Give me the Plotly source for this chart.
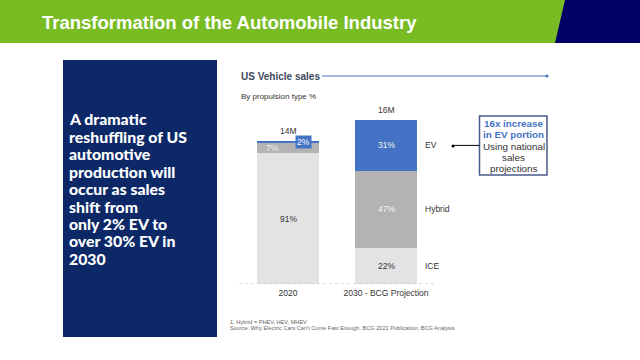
import plotly.graph_objects as go

# ---- data ----
categories = ["2020", "2030 - BCG Projection"]
totals_m = [14, 16]                 # total sales, millions
total_labels = ["14M", "16M"]
ice_share = [91, 22]                # %
hybrid_share = [7, 47]
ev_share = [2, 31]
segment_names = ["ICE", "Hybrid", "EV"]

W, H = 640, 360
def px(x): return x / W
def py(y): return 1 - y / H

ice_v = [t * s / 100 for t, s in zip(totals_m, ice_share)]
hyb_v = [t * s / 100 for t, s in zip(totals_m, hybrid_share)]
ev_v = [t * s / 100 for t, s in zip(totals_m, ev_share)]
idx = list(range(len(categories)))

C_EV = "#4472C4"
C_HYB = "#B3B3B3"
C_ICE = "#E3E3E3"
TXT = "#333333"
FONT = "Liberation Sans, Arial, sans-serif"

fig = go.Figure()
fig.add_trace(go.Bar(x=idx, y=ice_v, name="ICE", marker=dict(color=C_ICE, line=dict(width=0))))
fig.add_trace(go.Bar(x=idx, y=hyb_v, name="Hybrid", marker=dict(color=C_HYB, line=dict(width=0))))
fig.add_trace(go.Bar(x=idx, y=ev_v, name="EV", marker=dict(color=C_EV, line=dict(width=0))))

shapes = []
ann = []

# header band
shapes.append(dict(type="rect", xref="paper", yref="paper", x0=0, x1=1, y0=py(43), y1=1,
                   fillcolor="#78BB22", line=dict(width=0), layer="below"))
shapes.append(dict(type="path", xref="paper", yref="paper",
                   path=f"M {px(565)} {py(0)} L {px(640)} {py(0)} L {px(640)} {py(43)} L {px(555)} {py(43)} Z",
                   fillcolor="#000066", line=dict(width=0), layer="below"))
ann.append(dict(xref="paper", yref="paper", x=px(40), y=py(22), xanchor="left", yanchor="middle",
                text="<b>Transformation of the Automobile Industry</b>", showarrow=False,
                font=dict(family=FONT, size=18.5, color="white")))

# left panel
shapes.append(dict(type="rect", xref="paper", yref="paper", x0=px(63), x1=px(217), y0=py(337), y1=py(60),
                   fillcolor="#0C2867", line=dict(width=0), layer="below"))
left_lines = ["A dramatic", "reshuffling of US", "automotive", "production will",
              "occur as sales", "shift from", "only 2% EV to", "over 30% EV in", "2030"]
for i, line in enumerate(left_lines):
    ann.append(dict(xref="paper", yref="paper", x=px(66.5), y=py(119 + 17.4 * i), xanchor="left",
                    yanchor="middle", text=line, showarrow=False,
                    font=dict(family="Lato, sans-serif", size=15.8, color="white", weight=900)))

# chart title + line
ann.append(dict(xref="paper", yref="paper", x=px(239), y=py(76), xanchor="left", yanchor="middle",
                text="<b>US Vehicle sales</b>", showarrow=False,
                font=dict(family=FONT, size=10, color="#3C4A5C")))
shapes.append(dict(type="line", xref="paper", yref="paper", x0=px(322), x1=px(547), y0=py(76), y1=py(76),
                   line=dict(color=C_EV, width=1)))
shapes.append(dict(type="circle", xref="paper", yref="paper", x0=px(545.5), x1=px(548.5), y0=py(77.5), y1=py(74.5),
                   fillcolor=C_EV, line=dict(width=0)))
ann.append(dict(xref="paper", yref="paper", x=px(239), y=py(97), xanchor="left", yanchor="middle",
                text="By propulsion type %", showarrow=False,
                font=dict(family=FONT, size=8, color=TXT)))

# baseline
shapes.append(dict(type="line", xref="x domain", yref="y", x0=0, x1=1, y0=0, y1=0,
                   line=dict(color="#BFBFBF", width=1, dash="dot"), layer="above"))

# totals
for i, t, lab in zip(idx, totals_m, total_labels):
    ann.append(dict(x=i, y=t, xref="x", yref="y", text=lab, showarrow=False, yanchor="bottom", yshift=3,
                    xanchor="center", font=dict(family=FONT, size=8.5, color=TXT)))

# segment labels
# 2020
ann.append(dict(x=0, y=ice_v[0] / 2, text=f"{ice_share[0]}%", showarrow=False, xanchor="center",
                font=dict(family=FONT, size=8.5, color=TXT)))
ann.append(dict(x=0, y=ice_v[0] + hyb_v[0] / 2, text=f"{hybrid_share[0]}%", showarrow=False,
                xanchor="center", xshift=-16, font=dict(family=FONT, size=8.5, color="#F2F2F2")))
ann.append(dict(x=0, y=totals_m[0], text=f"{ev_share[0]}%", showarrow=False, xanchor="center",
                xshift=15, yshift=-1.5, bgcolor=C_EV, borderpad=1,
                font=dict(family=FONT, size=8.5, color="white")))
# 2030
ann.append(dict(x=1, y=ice_v[1] / 2, text=f"{ice_share[1]}%", showarrow=False, xanchor="center",
                font=dict(family=FONT, size=8.5, color=TXT)))
ann.append(dict(x=1, y=ice_v[1] + hyb_v[1] / 2, text=f"{hybrid_share[1]}%", showarrow=False,
                xanchor="center", font=dict(family=FONT, size=8.5, color="#F2F2F2")))
ann.append(dict(x=1, y=ice_v[1] + hyb_v[1] + ev_v[1] / 2, text=f"{ev_share[1]}%", showarrow=False,
                xanchor="center", font=dict(family=FONT, size=8.5, color="#F2F2F2")))

# right-hand segment names
seg_mid = [ice_v[1] / 2, ice_v[1] + hyb_v[1] / 2, ice_v[1] + hyb_v[1] + ev_v[1] / 2]
for name, ym in zip(segment_names, seg_mid):
    ann.append(dict(xref="paper", yref="y", x=px(423), y=ym, xanchor="left", text=name, showarrow=False,
                    font=dict(family=FONT, size=8.5, color=TXT)))

# callout box
shapes.append(dict(type="rect", xref="paper", yref="paper", x0=px(479.5), x1=px(547), y0=py(175), y1=py(116),
                   line=dict(color="#4A5A8A", width=1.5), fillcolor="white"))
shapes.append(dict(type="line", xref="paper", yref="y", x0=px(453), x1=px(479.5), y0=seg_mid[2], y1=seg_mid[2],
                   line=dict(color="black", width=1)))
shapes.append(dict(type="circle", xref="paper", yref="paper", x0=px(451.5), x1=px(454.5), y0=py(147.5), y1=py(144.5),
                   fillcolor="black", line=dict(width=0)))
box_lines = [("<b>16x increase</b>", C_EV, 123), ("<b>in EV portion</b>", C_EV, 134.5),
             ("Using national", TXT, 146), ("sales", TXT, 157), ("projections", TXT, 168)]
for t, col, yy in box_lines:
    ann.append(dict(xref="paper", yref="paper", x=px(513.5), y=py(yy), text=t, showarrow=False,
                    xanchor="center", yanchor="middle", font=dict(family=FONT, size=9.8, color=col)))

# footnotes
ann.append(dict(xref="paper", yref="paper", x=px(228), y=py(322), xanchor="left", yanchor="middle",
                text="1. Hybrid = PHEV, HEV, MHEV", showarrow=False,
                font=dict(family=FONT, size=5.6, color="#666666")))
ann.append(dict(xref="paper", yref="paper", x=px(228), y=py(328), xanchor="left", yanchor="middle",
                text="Source: Why Electric Cars Can't Come Fast Enough, BCG 2021 Publication; BCG Analysis",
                showarrow=False, font=dict(family=FONT, size=5.6, color="#666666")))

fig.update_layout(
    width=W, height=H, margin=dict(l=0, r=0, t=0, b=0),
    paper_bgcolor="white", plot_bgcolor="white",
    barmode="stack", bargap=0.367, showlegend=False,
    shapes=shapes, annotations=ann,
    xaxis=dict(domain=[px(239), px(435)], range=[-0.5, 1.5], tickmode="array",
               tickvals=idx, ticktext=categories, ticklabelstandoff=2,
               showgrid=False, zeroline=False, showline=False, ticks="",
               tickfont=dict(family=FONT, size=8.5, color=TXT), fixedrange=True),
    yaxis=dict(domain=[py(284), py(99.5)], range=[0, 18], visible=False, fixedrange=True),
)

fig.write_html("out.html", config={"displayModeBar": False},
               post_script="document.body.style.margin='0';document.body.style.overflow='hidden';")
